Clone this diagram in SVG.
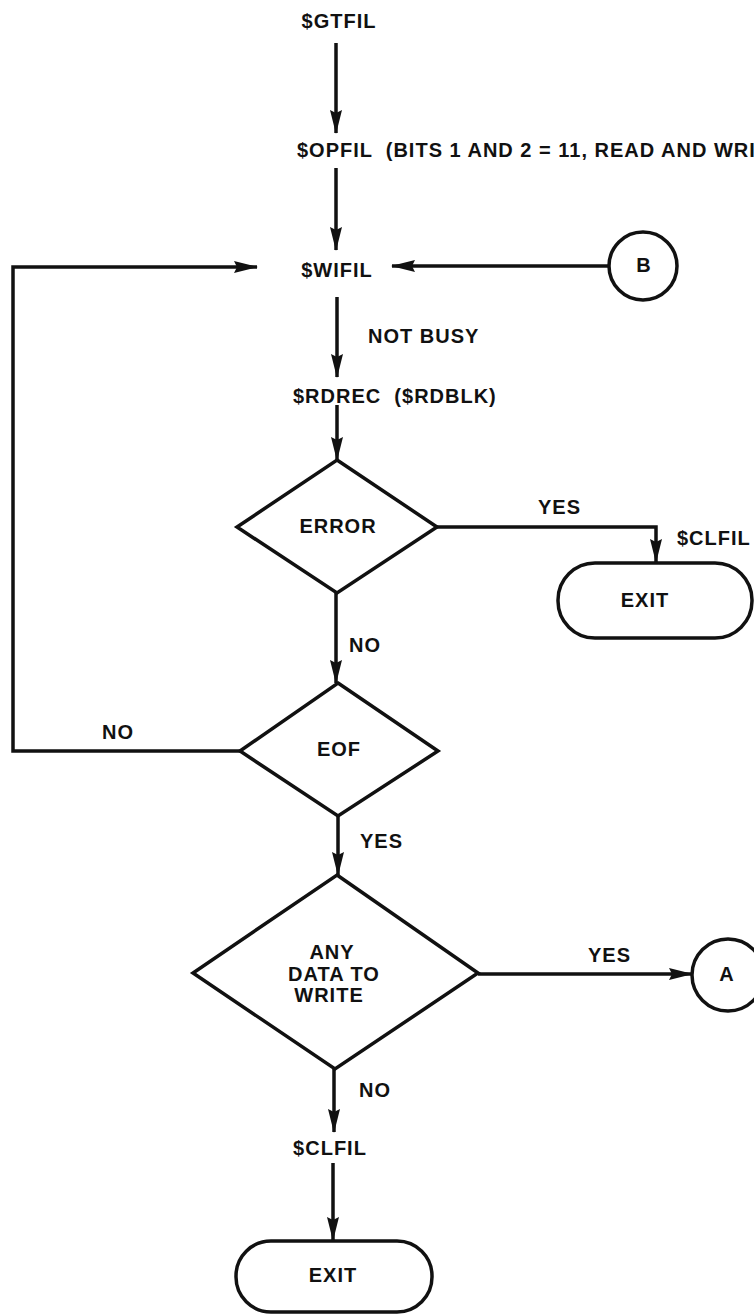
<svg xmlns="http://www.w3.org/2000/svg" width="754" height="1314" viewBox="0 0 754 1314">
<style>
.t{font-family:"Liberation Sans",Arial,sans-serif;font-weight:bold;font-size:20px;letter-spacing:1px;fill:#111}
.m{text-anchor:middle}
.s{fill:none;stroke:#111;stroke-width:3.5;stroke-linejoin:miter}
.c{fill:none;stroke:#111;stroke-width:3.5}
</style>
<defs>
<marker id="ah" markerUnits="userSpaceOnUse" markerWidth="24" markerHeight="12" refX="23" refY="6" orient="auto">
<path d="M0,0 L24,6 L0,12 L3,6 z" fill="#111"/>
</marker>
</defs>
<rect width="754" height="1314" fill="#fff"/>
<g id="connectors">
<path class="c" d="M336,43 V133" marker-end="url(#ah)"/>
<path class="c" d="M336,168 V250" marker-end="url(#ah)"/>
<path class="c" d="M609,266 H392" marker-end="url(#ah)"/>
<path class="c" d="M240,751 H13 V267 H257" marker-end="url(#ah)"/>
<path class="c" d="M337,297 V377" marker-end="url(#ah)"/>
<path class="c" d="M337,405 V460" marker-end="url(#ah)"/>
<path class="c" d="M437,527 H656 V562" marker-end="url(#ah)"/>
<path class="c" d="M336,593 V683" marker-end="url(#ah)"/>
<path class="c" d="M338,815 V875" marker-end="url(#ah)"/>
<path class="c" d="M478,974 H692" marker-end="url(#ah)"/>
<path class="c" d="M334,1069 V1132" marker-end="url(#ah)"/>
<path class="c" d="M333,1163 V1240" marker-end="url(#ah)"/>
<text class="t" x="368" y="343">NOT BUSY</text>
<text class="t" x="538" y="514">YES</text>
<text class="t" x="349" y="652">NO</text>
<text class="t" x="102" y="739">NO</text>
<text class="t" x="360" y="848">YES</text>
<text class="t" x="588" y="962">YES</text>
<text class="t" x="359" y="1097">NO</text>
</g>
<g id="gtfil"><text class="t m" x="339" y="28">$GTFIL</text></g>
<g id="opfil"><text class="t" x="297" y="157" xml:space="preserve">$OPFIL  (BITS 1 AND 2 = 11, READ AND WRI</text></g>
<g id="wifil"><text class="t m" x="337" y="277">$WIFIL</text></g>
<g id="connB"><circle class="s" cx="643" cy="266" r="34"/><text class="t m" x="644" y="272">B</text></g>
<g id="rdrec"><text class="t" x="293" y="403" xml:space="preserve">$RDREC  ($RDBLK)</text></g>
<g id="error"><polygon class="s" points="337,460 437,527 337,593 237,527"/><text class="t m" x="338" y="533">ERROR</text></g>
<g id="clfil1"><text class="t" x="677" y="545">$CLFIL</text></g>
<g id="exit1"><rect class="s" x="558" y="563" width="194" height="75" rx="37" ry="37"/><text class="t m" x="645" y="607">EXIT</text></g>
<g id="eof"><polygon class="s" points="338,683 438,751 338,816 240,751"/><text class="t m" x="339" y="756">EOF</text></g>
<g id="anydata"><polygon class="s" points="337,875 478,973 335,1069 193,973"/>
<text class="t m" x="332" y="959">ANY</text>
<text class="t m" x="334" y="981">DATA TO</text>
<text class="t m" x="329" y="1002">WRITE</text></g>
<g id="connA"><circle class="s" cx="728" cy="975" r="36"/><text class="t m" x="727" y="981">A</text></g>
<g id="clfil2"><text class="t m" x="330" y="1155">$CLFIL</text></g>
<g id="exit2"><rect class="s" x="236" y="1241" width="196" height="71" rx="35" ry="35"/><text class="t m" x="333" y="1282">EXIT</text></g>
</svg>
